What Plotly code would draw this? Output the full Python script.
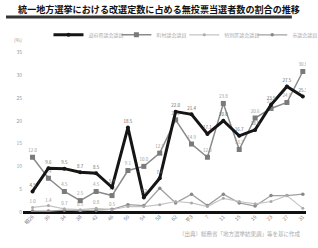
import plotly.graph_objects as go

years = ["昭26", "30", "34", "38", "42", "46", "50", "54", "58", "62",
         "平3", "7", "11", "15", "19", "23", "27", "31"]
pref_assembly = [4.5, 9.6, 9.5, 8.7, 8.5, 5.4, 18.5, 3.2, 7.4, 22.0,
                 21.4, 17.1, 20.0, 16.7, 18.0, 23.5, 27.5, 25.3]
town_assembly = [12.0, 7.4, 4.5, 2.5, 4.5, 3.6, 9.1, 10.0, 12.9, 20.2,
                 14.9, 12.0, 23.8, 13.7, 20.6, 22.7, 24.0, 30.8]
city_assembly = [0.2, 0.2, 0.4, 0.3, 0.4, 0.6, 1.6, 1.4, 5.2, 2.0,
                 3.9, 1.4, 3.9, 2.0, 1.3, 3.6, 3.6, 3.9]
ward_assembly = [1.0, 1.4, 0.7, 0.5, 0.8, 0.5, 1.2, 1.2, 1.6, 2.3,
                 2.0, 1.2, 3.0, 2.3, 1.8, 2.3, 3.6, 0.8]
series_names = ["道府県議会議員", "町村議会議員", "市議会議員", "特別区議会議員"]
title_text = "統一地方選挙における改選定数に占める無投票当選者数の割合の推移"
y_ticks = [0, 5, 10, 15, 20, 25, 30, 35]

xs = list(range(len(years)))
FONT = "Noto Sans CJK JP"

fig = go.Figure()
fig.add_trace(go.Scatter(
    x=xs, y=city_assembly, name=series_names[2], mode="lines+markers",
    line=dict(color="#a0a0a0", width=1.3), marker=dict(size=3.5, color="#888888"),
))
fig.add_trace(go.Scatter(
    x=xs, y=ward_assembly, name=series_names[3], mode="lines+markers+text",
    line=dict(color="#c4c4c4", width=1.2), marker=dict(size=3, color="#aaaaaa"),
    text=[f"{v:.1f}" if i < 6 else "" for i, v in enumerate(ward_assembly)],
    textposition="top center", textfont=dict(size=4.5, color="#999999"),
))
fig.add_trace(go.Scatter(
    x=xs, y=town_assembly, name=series_names[1], mode="lines+markers+text",
    line=dict(color="#8a8a8a", width=1.5), marker=dict(size=5, symbol="square", color="#7a7a7a"),
    text=[f"{v:.1f}" for v in town_assembly],
    textposition="top center", textfont=dict(size=4.5, color="#999999"),
))
fig.add_trace(go.Scatter(
    x=xs, y=pref_assembly, name=series_names[0], mode="lines+markers+text",
    line=dict(color="#151515", width=3), marker=dict(size=4, color="#151515"),
    text=[f"{v:.1f}" for v in pref_assembly],
    textposition="top center", textfont=dict(size=4.5, color="#666666"),
))

fig.update_layout(
    width=318, height=248,
    margin=dict(l=23, r=12, t=40, b=36, autoexpand=False),
    paper_bgcolor="white", plot_bgcolor="white",
    font=dict(family=FONT, color="#888888", size=6),
    title=dict(text="<b>" + title_text + "</b>", x=0.5, xanchor="center",
               y=0.962, yanchor="middle",
               font=dict(family=FONT, size=9.1, color="#111111")),
    showlegend=True,
    legend=dict(orientation="h", x=0.09, y=1.03, xanchor="left", yanchor="middle",
                font=dict(size=5, color="#aaaaaa"), itemwidth=30,
                entrywidth=0.24, entrywidthmode="fraction", traceorder="reversed",
                bgcolor="rgba(0,0,0,0)", tracegroupgap=0),
    xaxis=dict(range=[-0.6, 17.2], tickvals=xs, ticktext=years, tickangle=-45,
               showgrid=False, zeroline=False, showline=False, ticks="",
               tickfont=dict(size=5, color="#777777")),
    yaxis=dict(range=[0, 37.7], tickvals=y_ticks, showgrid=False, zeroline=True,
               zerolinecolor="#111111", zerolinewidth=2.5, showline=False, ticks="",
               tickfont=dict(size=5, color="#999999")),
    shapes=[dict(type="line", xref="paper", yref="paper", x0=-0.06, x1=0.95,
                 y0=1.134, y1=1.134, line=dict(color="#333333", width=3))],
    annotations=[
        dict(text="(%)", xref="paper", yref="paper", x=-0.04, y=1.035,
             showarrow=False, font=dict(size=5, color="#999999")),
        dict(text="（出典）総務省「地方選挙結果調」等を基に作成", xref="paper", yref="paper",
             x=0.99, y=-0.13, xanchor="right", yanchor="middle", showarrow=False,
             font=dict(size=5.5, color="#aaaaaa")),
    ],
)

fig.write_html("out.html", config={"displayModeBar": False},
               post_script="document.body.style.margin='0';")
